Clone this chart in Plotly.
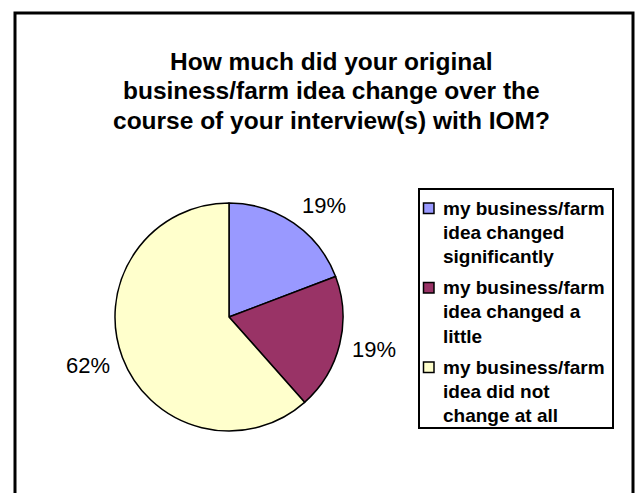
import math
import plotly.graph_objects as go

# Survey responses
categories = [
    "my business/farm idea changed significantly",
    "my business/farm idea changed a little",
    "my business/farm idea did not change at all",
]
legend_lines = [
    ["my business/farm", "idea changed", "significantly"],
    ["my business/farm", "idea changed a", "little"],
    ["my business/farm", "idea did not", "change at all"],
]
responses = [5, 5, 16]
colors = ["#9999FF", "#993366", "#FFFFCC"]
title_lines = [
    "How much did your original",
    "business/farm idea change over the",
    "course of your interview(s) with IOM?",
]

W, H = 635, 493
FONT = "Liberation Sans, Arial, sans-serif"

# pie geometry (pixels)
CX, CY, R = 229, 317, 114


def px_x(x):
    return x / W


def px_y(y):
    return 1 - y / H


fig = go.Figure(
    go.Pie(
        labels=categories,
        values=responses,
        sort=False,
        direction="clockwise",
        rotation=0,
        marker=dict(colors=colors, line=dict(color="black", width=1.5)),
        textinfo="none",
        domain=dict(x=[px_x(CX - R), px_x(CX + R)], y=[px_y(CY + R), px_y(CY - R)]),
        showlegend=False,
        hoverinfo="label+percent",
    )
)

shapes = [
    # chart area frame
    dict(type="rect", xref="paper", yref="paper",
         x0=px_x(15), x1=px_x(633), y0=px_y(520), y1=px_y(13),
         line=dict(color="black", width=3), fillcolor="rgba(0,0,0,0)"),
    # legend frame
    dict(type="rect", xref="paper", yref="paper",
         x0=px_x(419), x1=px_x(613), y0=px_y(428), y1=px_y(189),
         line=dict(color="black", width=2), fillcolor="white"),
]

annotations = []
# title, one annotation per line
for i, line in enumerate(title_lines):
    annotations.append(dict(
        text=line, xref="paper", yref="paper",
        x=px_x(331.5), y=px_y(61 + 30 * i), xanchor="center", yanchor="middle",
        showarrow=False, font=dict(family=FONT, size=24.5, color="black", weight="bold"),
    ))

# percentage labels outside each slice, anchored at the slice's mid angle
total = sum(responses)
start = 0.0
LABEL_H = 22
for v in responses:
    share = v / total
    mid = math.radians((start + share / 2) * 360)
    start += share
    s, c = math.sin(mid), math.cos(mid)
    px = CX + (R + 11) * s
    py = CY - (R + 11) * c - (LABEL_H / 2) * c
    annotations.append(dict(
        text=f"{share * 100:.0f}%", xref="paper", yref="paper",
        x=px_x(px), y=px_y(py), xanchor="left" if s >= 0 else "right", yanchor="middle",
        showarrow=False, font=dict(family=FONT, size=22, color="black"),
    ))

# legend entries
for i, (lines, col) in enumerate(zip(legend_lines, colors)):
    top = 208 + 79.5 * i
    shapes.append(dict(
        type="rect", xref="paper", yref="paper",
        x0=px_x(423.5), x1=px_x(434), y0=px_y(top + 5.5), y1=px_y(top - 5),
        line=dict(color="black", width=1.5), fillcolor=col,
    ))
    for j, t in enumerate(lines):
        annotations.append(dict(
            text=t, xref="paper", yref="paper",
            x=px_x(441), y=px_y(top + 24.3 * j), xanchor="left", yanchor="middle",
            showarrow=False, font=dict(family=FONT, size=19, color="black", weight="bold"),
        ))

fig.update_layout(
    width=W, height=H,
    margin=dict(l=0, r=0, t=0, b=0),
    paper_bgcolor="white",
    plot_bgcolor="white",
    shapes=shapes,
    annotations=annotations,
)

fig.write_html("out.html")
